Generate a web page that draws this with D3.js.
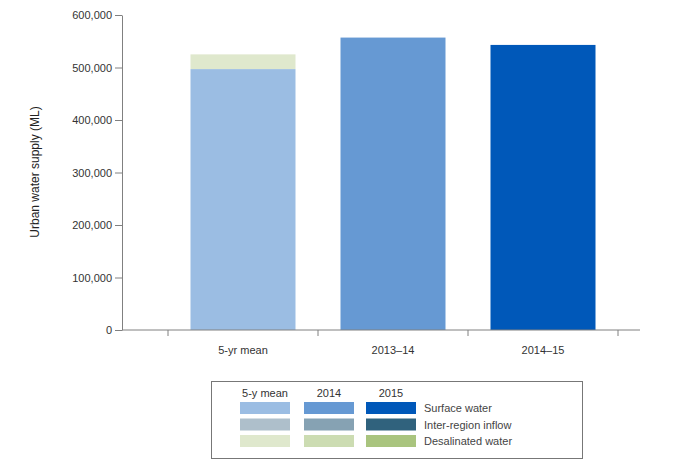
<!DOCTYPE html>
<html><head><meta charset="utf-8">
<script src="https://cdn.jsdelivr.net/npm/d3@7"></script>
<style>body{margin:0;background:#fff;font-family:"Liberation Sans",Arial,sans-serif}</style>
</head><body><svg id="c" width="700" height="476"></svg>
<script>
const categories = ["5-yr mean", "2013–14", "2014–15"];
const surfaceWater = [497000, 557000, 543000];
const interRegion = [0, 0, 0];
const desalinated = [28000, 0, 0];
const yTicks = [0, 100000, 200000, 300000, 400000, 500000, 600000];
const legendCols = ["5-y mean", "2014", "2015"];
const legendRows = ["Surface water", "Inter-region inflow", "Desalinated water"];
const colors = [
  ["#9bbde3", "#6699d3", "#0058b9"],
  ["#aebfcb", "#86a2b3", "#30627d"],
  ["#dfe8cd", "#ccdcb2", "#a9c47e"]
];

const svg = d3.select("#c");
const y = d3.scaleLinear().domain([0, 600000]).range([330, 15]);
const x = d3.scaleBand().domain(categories).range([168, 618]).paddingInner(0.3).paddingOuter(0.15);
const grey = "#808080", txt = "#333";

categories.forEach((c, i) => {
  const stack = [surfaceWater[i], interRegion[i], desalinated[i]];
  let base = 0;
  stack.forEach((v, k) => {
    if (v > 0) {
      svg.append("rect").attr("x", x(c)).attr("width", x.bandwidth())
        .attr("y", y(base + v)).attr("height", y(base) - y(base + v)).attr("fill", colors[k][i]);
    }
    base += v;
  });
});

const ya = svg.append("g").attr("transform", "translate(122,0)")
  .call(d3.axisLeft(y).tickValues(yTicks).tickFormat(d3.format(",")).tickSize(7).tickSizeOuter(0));
ya.select(".domain").attr("stroke", grey);
ya.selectAll(".tick line").attr("stroke", grey);
ya.selectAll("text").attr("fill", txt).attr("font-size", 11).attr("font-family", "Liberation Sans, Arial, sans-serif").attr("x", -10);

svg.append("line").attr("x1", 122).attr("x2", 640).attr("y1", 330).attr("y2", 330).attr("stroke", grey);
const step = x.step();
const bounds = [0, 1, 2, 3].map(i => x(categories[0]) - step * 0.15 + i * step);
bounds.forEach(b => svg.append("line").attr("x1", b).attr("x2", b).attr("y1", 330).attr("y2", 336).attr("stroke", grey));
categories.forEach(c => svg.append("text").attr("x", x(c) + x.bandwidth() / 2).attr("y", 354)
  .attr("text-anchor", "middle").attr("font-size", 11).attr("fill", txt).text(c));

svg.append("text").attr("transform", "translate(39,172) rotate(-90)").attr("text-anchor", "middle")
  .attr("font-size", 12).attr("fill", "#222").text("Urban water supply (ML)");

svg.append("rect").attr("x", 211.5).attr("y", 381.5).attr("width", 371).attr("height", 77)
  .attr("fill", "none").attr("stroke", "#777");
const colX = [240, 304, 366];
legendCols.forEach((t, i) => svg.append("text").attr("x", colX[i] + 25).attr("y", 397)
  .attr("text-anchor", "middle").attr("font-size", 11).attr("fill", txt).text(t));
legendRows.forEach((t, r) => {
  colors[r].forEach((col, i) => svg.append("rect").attr("x", colX[i]).attr("y", 402 + r * 16.5)
    .attr("width", 50).attr("height", 12).attr("fill", col));
  svg.append("text").attr("x", 424).attr("y", 412 + r * 16.5).attr("font-size", 11).attr("fill", "#444").text(t);
});
</script></body></html>
